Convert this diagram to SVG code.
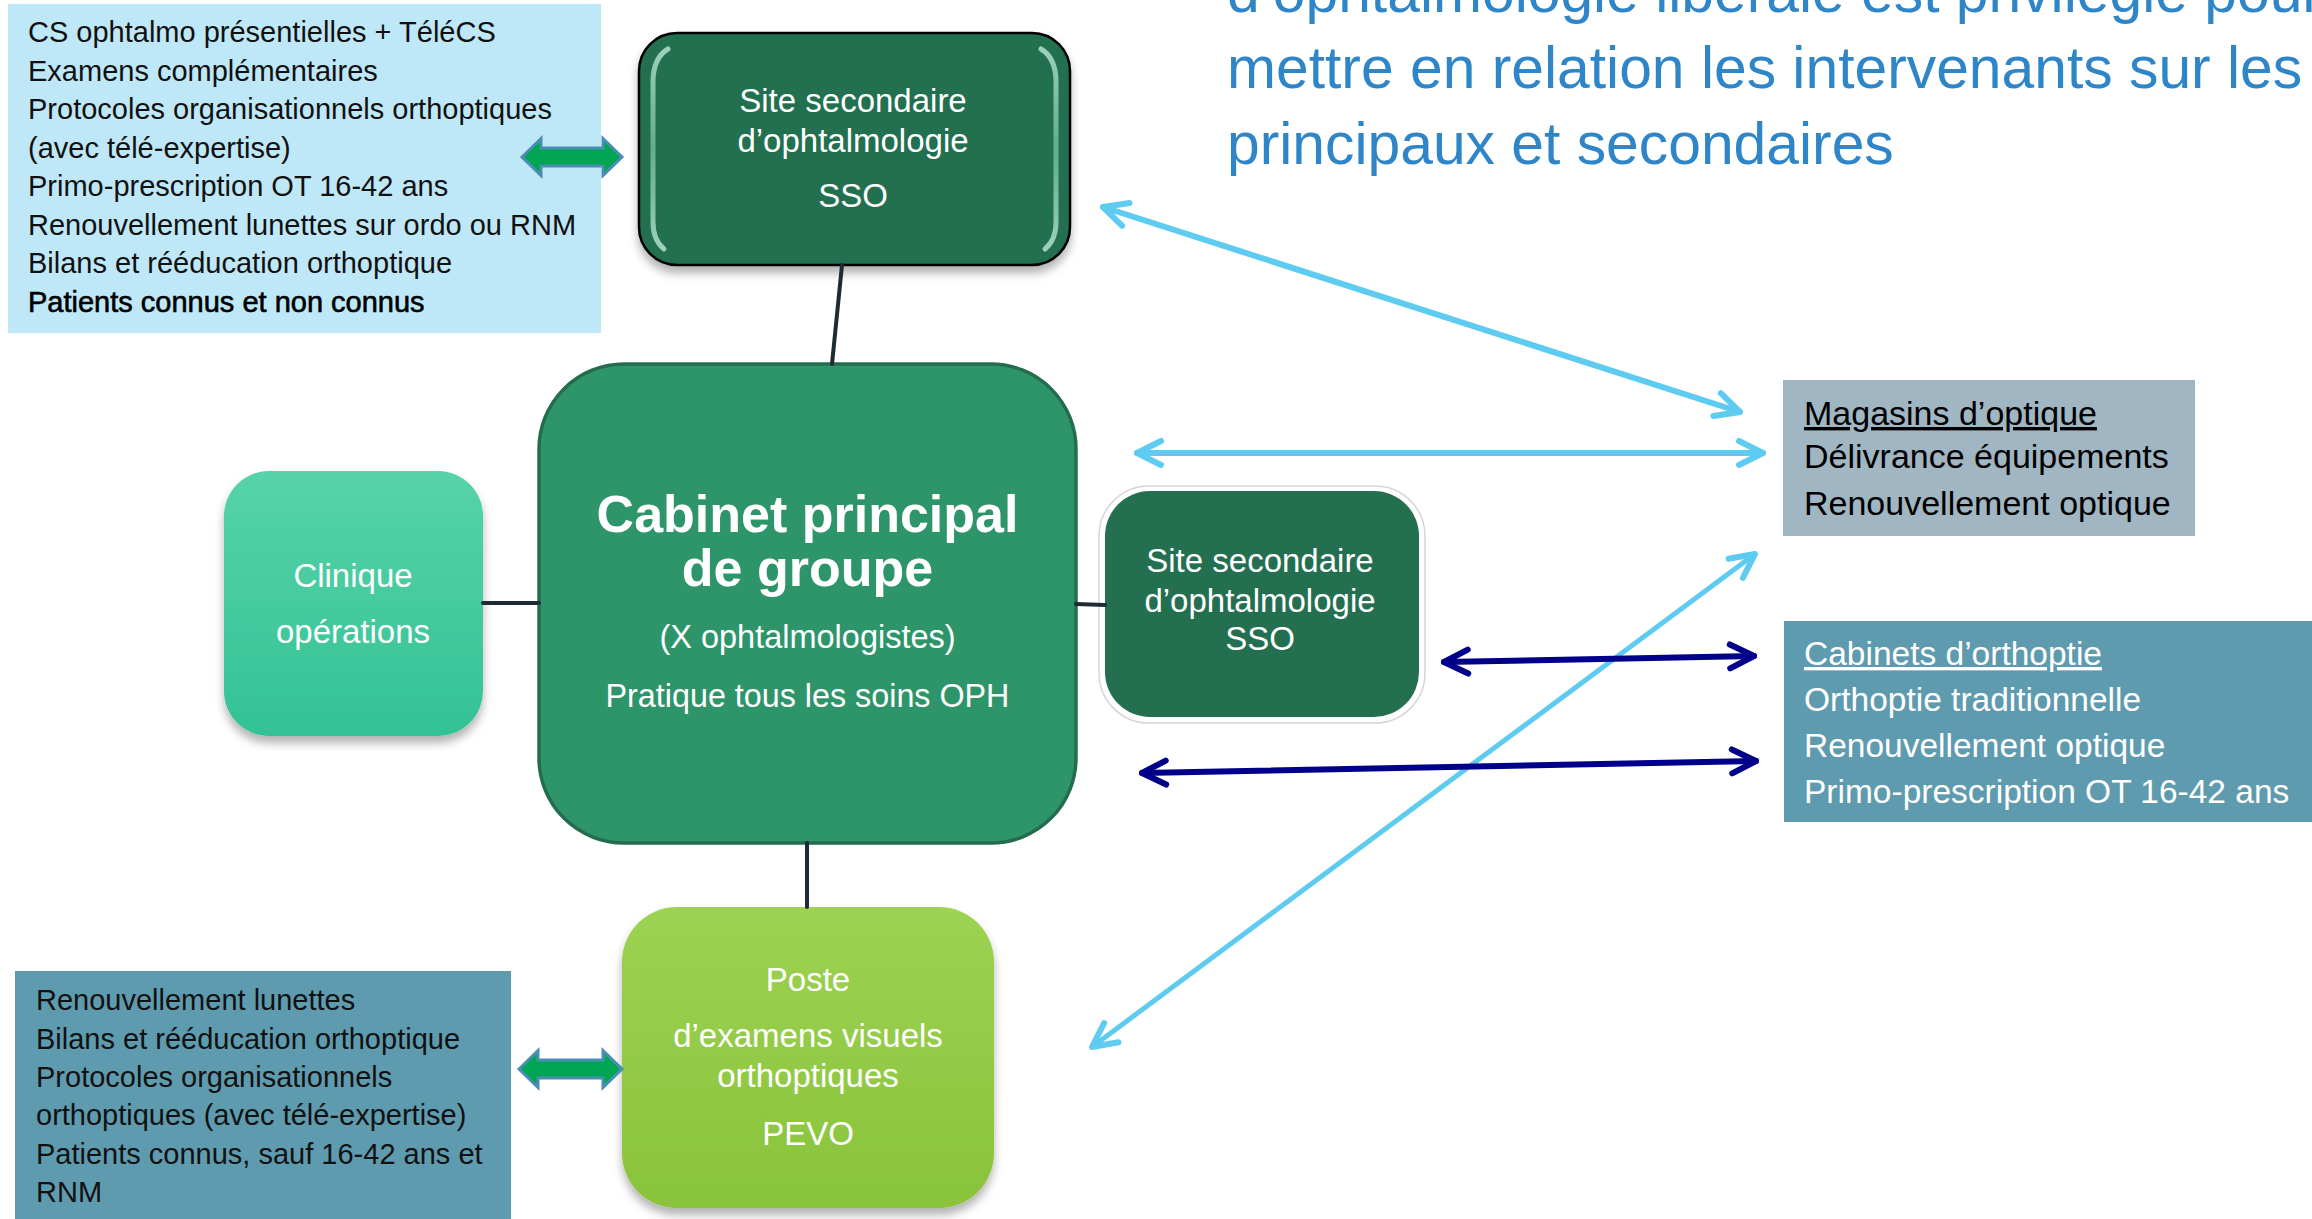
<svg xmlns="http://www.w3.org/2000/svg" width="2312" height="1219" viewBox="0 0 2312 1219">
<defs>
<style>
text{font-family:"Liberation Sans",Arial,sans-serif}
.list{font-size:29px;fill:#111}
.node{font-size:33px;fill:#fff;text-anchor:middle}
.title{font-size:58.8px;fill:#2E86C8}
.conn{stroke:#1f2b33;stroke-width:4;stroke-linecap:round;fill:none}
.lb{stroke:#5ecbf0;stroke-width:6;fill:none;stroke-linecap:round}
.nv{stroke:#00008b;stroke-width:6;fill:none;stroke-linecap:round}
.blk{fill:#00a651;stroke:#4a8db5;stroke-width:3;stroke-linejoin:miter}
.hl{fill:none;stroke:url(#ghl);stroke-width:5;stroke-linecap:round;opacity:0.75}
</style>
<marker id="mlb" markerUnits="userSpaceOnUse" markerWidth="40" markerHeight="40" viewBox="-32 -20 40 40" refX="0" refY="0" orient="auto-start-reverse">
<path d="M-24,-12 L0,0 L-24,12" fill="none" stroke="#5ecbf0" stroke-width="6" stroke-linecap="round" stroke-linejoin="round"/>
</marker>
<marker id="mnv" markerUnits="userSpaceOnUse" markerWidth="40" markerHeight="40" viewBox="-32 -20 40 40" refX="0" refY="0" orient="auto-start-reverse">
<path d="M-24,-12 L0,0 L-24,12" fill="none" stroke="#00008b" stroke-width="6" stroke-linecap="round" stroke-linejoin="round"/>
</marker>
<linearGradient id="gcl" x1="0" y1="0" x2="0" y2="1">
<stop offset="0" stop-color="#57d3a8"/><stop offset="1" stop-color="#33c295"/>
</linearGradient>
<linearGradient id="gpe" x1="0" y1="0" x2="0" y2="1">
<stop offset="0" stop-color="#9dd252"/><stop offset="1" stop-color="#89c33a"/>
</linearGradient>
<linearGradient id="ghl" x1="0" y1="0" x2="0" y2="1">
<stop offset="0" stop-color="#d8fff0" stop-opacity="0.9"/><stop offset="0.5" stop-color="#9fe3c2" stop-opacity="0.7"/><stop offset="1" stop-color="#d8fff0" stop-opacity="0.9"/>
</linearGradient>
<filter id="sh" x="-10%" y="-10%" width="120%" height="130%">
<feDropShadow dx="0" dy="7" stdDeviation="5" flood-color="#000" flood-opacity="0.3"/>
</filter>
</defs>

<rect width="2312" height="1219" fill="#fff"/>

<g id="title">
<text class="title" x="1227" y="12">d’ophtalmologie libérale est privilégié pour</text>
<text class="title" x="1227" y="88">mettre en relation les intervenants sur les</text>
<text class="title" x="1227" y="164">principaux et secondaires</text>
</g>

<g id="sso-top-info">
<rect x="8" y="4" width="593" height="329" fill="#bee8f8"/>
<text class="list" x="28" y="42">CS ophtalmo présentielles + TéléCS</text>
<text class="list" x="28" y="81">Examens complémentaires</text>
<text class="list" x="28" y="119">Protocoles organisationnels orthoptiques</text>
<text class="list" x="28" y="158">(avec télé-expertise)</text>
<text class="list" x="28" y="196">Primo-prescription OT 16-42 ans</text>
<text class="list" x="28" y="235">Renouvellement lunettes sur ordo ou RNM</text>
<text class="list" x="28" y="273">Bilans et rééducation orthoptique</text>
<text class="list" x="28" y="312" style="fill:#000;stroke:#000;stroke-width:0.6">Patients connus et non connus</text>
</g>

<g id="sso-top">
<rect x="639" y="33" width="431" height="232" rx="38" fill="#236f50" stroke="#000" stroke-width="2.5" filter="url(#sh)"/>
<path class="hl" d="M668,49 Q653,58 653,82 L653,222 Q653,240 664,249"/>
<path class="hl" d="M1041,49 Q1056,58 1056,82 L1056,222 Q1056,240 1045,249"/>
<text class="node" x="853" y="112">Site secondaire</text>
<text class="node" x="853" y="152">d’ophtalmologie</text>
<text class="node" x="853" y="207">SSO</text>
</g>

<g id="cabinet-principal">
<rect x="539" y="364" width="537" height="479" rx="85" fill="#2e956b" stroke="#236d4e" stroke-width="3.5"/>
<text x="807.5" y="532" text-anchor="middle" fill="#fff" font-weight="bold" font-size="52">Cabinet principal</text>
<text x="807.5" y="586" text-anchor="middle" fill="#fff" font-weight="bold" font-size="52">de groupe</text>
<text class="node" x="807.5" y="648" style="font-size:32.5px">(X ophtalmologistes)</text>
<text class="node" x="807.5" y="707" style="font-size:32.3px">Pratique tous les soins OPH</text>
</g>

<g id="clinique">
<rect x="224" y="471" width="259" height="265" rx="45" fill="url(#gcl)" filter="url(#sh)"/>
<text class="node" x="353" y="587">Clinique</text>
<text class="node" x="353" y="643">opérations</text>
</g>

<g id="sso-right">
<rect x="1099" y="486" width="326" height="237" rx="50" fill="#fff" stroke="#d6d6d6" stroke-width="1.5"/>
<rect x="1105" y="491" width="314" height="226" rx="45" fill="#236f50"/>
<text class="node" x="1260" y="572">Site secondaire</text>
<text class="node" x="1260" y="612">d’ophtalmologie</text>
<text class="node" x="1260" y="650">SSO</text>
</g>

<g id="pevo">
<rect x="622" y="907" width="372" height="301" rx="55" fill="url(#gpe)" filter="url(#sh)"/>
<text class="node" x="808" y="991">Poste</text>
<text class="node" x="808" y="1047">d’examens visuels</text>
<text class="node" x="808" y="1087">orthoptiques</text>
<text class="node" x="808" y="1145">PEVO</text>
</g>

<g id="pevo-info">
<rect x="15" y="971" width="496" height="260" fill="#5f9baf"/>
<text class="list" x="36" y="1010">Renouvellement lunettes</text>
<text class="list" x="36" y="1049">Bilans et rééducation orthoptique</text>
<text class="list" x="36" y="1087">Protocoles organisationnels</text>
<text class="list" x="36" y="1125">orthoptiques (avec télé-expertise)</text>
<text class="list" x="36" y="1164">Patients connus, sauf 16-42 ans et</text>
<text class="list" x="36" y="1202">RNM</text>
</g>

<g id="magasins">
<rect x="1783" y="380" width="412" height="156" fill="#a0b6c2"/>
<text x="1804" y="425" font-size="34" fill="#000" text-decoration="underline">Magasins d’optique</text>
<text x="1804" y="468" font-size="34" fill="#000">Délivrance équipements</text>
<text x="1804" y="515" font-size="34" fill="#000">Renouvellement optique</text>
</g>

<g id="cabinets-orthoptie">
<rect x="1784" y="621" width="540" height="201" fill="#5f9baf"/>
<text x="1804" y="665" font-size="33.5" fill="#fff" text-decoration="underline">Cabinets d’orthoptie</text>
<text x="1804" y="711" font-size="33.5" fill="#fff">Orthoptie traditionnelle</text>
<text x="1804" y="757" font-size="33.5" fill="#fff">Renouvellement optique</text>
<text x="1804" y="803" font-size="33.5" fill="#fff">Primo-prescription OT 16-42 ans</text>
</g>

<g id="connectors">
<line class="conn" x1="842" y1="265" x2="832" y2="364"/>
<line class="conn" x1="483" y1="603" x2="539" y2="603"/>
<line class="conn" x1="1076" y1="604" x2="1105" y2="605"/>
<line class="conn" x1="807" y1="843" x2="807" y2="907"/>
<line class="lb" x1="1103" y1="207" x2="1740" y2="412" marker-start="url(#mlb)" marker-end="url(#mlb)"/>
<line class="lb" x1="1137" y1="453" x2="1763" y2="453" marker-start="url(#mlb)" marker-end="url(#mlb)"/>
<line class="lb" style="stroke-width:5" x1="1092" y1="1047" x2="1755" y2="554" marker-start="url(#mlb)" marker-end="url(#mlb)"/>
<line class="nv" x1="1444" y1="662" x2="1754" y2="656" marker-start="url(#mnv)" marker-end="url(#mnv)"/>
<line class="nv" x1="1142" y1="773" x2="1756" y2="761" marker-start="url(#mnv)" marker-end="url(#mnv)"/>
<polygon class="blk" points="522,157 541,138.5 541,148 603,148 603,138.5 622,157 603,175.5 603,166 541,166 541,175.5"/>
<polygon class="blk" points="519,1069 538,1050.5 538,1060 603,1060 603,1050.5 622,1069 603,1087.5 603,1078 538,1078 538,1087.5"/>
</g>
</svg>
